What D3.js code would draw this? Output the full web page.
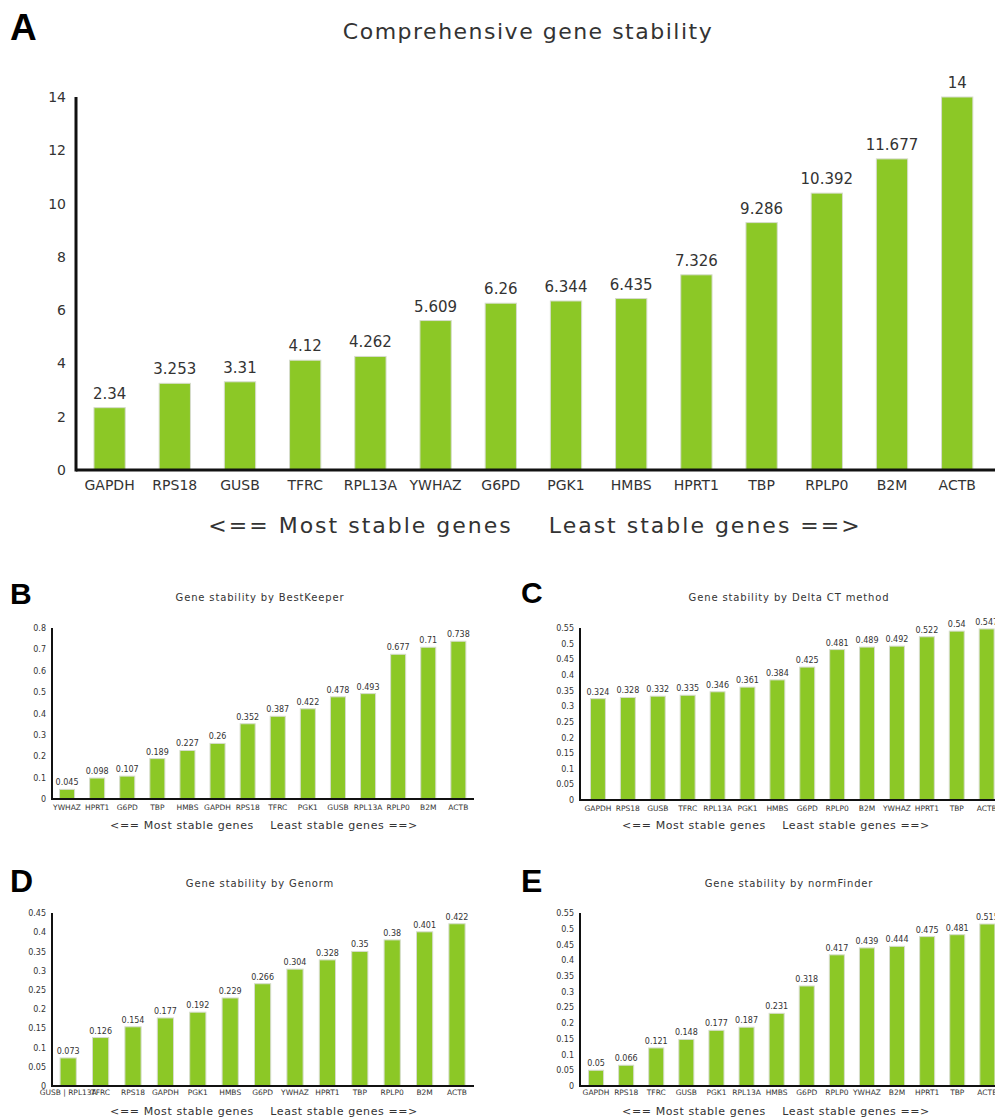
<!DOCTYPE html>
<html>
<head>
<meta charset="utf-8">
<script src="https://cdn.jsdelivr.net/npm/d3@7"></script>
<style>
  body { margin: 0; background: #fff; }
  svg { display: block; }
  text { font-family: "DejaVu Sans", sans-serif; fill: #333; }
  .panel-letter { font-family: "Liberation Sans", Arial, sans-serif; font-weight: bold; fill: #000; }
</style>
</head>
<body>
<svg width="995" height="1120"></svg>
<script>
// comprehensive ranking
const genesA = ['GAPDH', 'RPS18', 'GUSB', 'TFRC', 'RPL13A', 'YWHAZ', 'G6PD', 'PGK1', 'HMBS', 'HPRT1', 'TBP', 'RPLP0', 'B2M', 'ACTB'];
const valuesA = [2.34, 3.253, 3.31, 4.12, 4.262, 5.609, 6.26, 6.344, 6.435, 7.326, 9.286, 10.392, 11.677, 14];
const ticksA = [0, 2, 4, 6, 8, 10, 12, 14];

// BestKeeper
const genesB = ['YWHAZ', 'HPRT1', 'G6PD', 'TBP', 'HMBS', 'GAPDH', 'RPS18', 'TFRC', 'PGK1', 'GUSB', 'RPL13A', 'RPLP0', 'B2M', 'ACTB'];
const valuesB = [0.045, 0.098, 0.107, 0.189, 0.227, 0.26, 0.352, 0.387, 0.422, 0.478, 0.493, 0.677, 0.71, 0.738];
const ticksB = [0, 0.1, 0.2, 0.3, 0.4, 0.5, 0.6, 0.7, 0.8];

// Delta CT
const genesC = ['GAPDH', 'RPS18', 'GUSB', 'TFRC', 'RPL13A', 'PGK1', 'HMBS', 'G6PD', 'RPLP0', 'B2M', 'YWHAZ', 'HPRT1', 'TBP', 'ACTB'];
const valuesC = [0.324, 0.328, 0.332, 0.335, 0.346, 0.361, 0.384, 0.425, 0.481, 0.489, 0.492, 0.522, 0.54, 0.547];
const ticksC = [0, 0.05, 0.1, 0.15, 0.2, 0.25, 0.3, 0.35, 0.4, 0.45, 0.5, 0.55];

// Genorm
const genesD = ['GUSB | RPL13A', 'TFRC', 'RPS18', 'GAPDH', 'PGK1', 'HMBS', 'G6PD', 'YWHAZ', 'HPRT1', 'TBP', 'RPLP0', 'B2M', 'ACTB'];
const valuesD = [0.073, 0.126, 0.154, 0.177, 0.192, 0.229, 0.266, 0.304, 0.328, 0.35, 0.38, 0.401, 0.422];
const ticksD = [0, 0.05, 0.1, 0.15, 0.2, 0.25, 0.3, 0.35, 0.4, 0.45];

// normFinder
const genesE = ['GAPDH', 'RPS18', 'TFRC', 'GUSB', 'PGK1', 'RPL13A', 'HMBS', 'G6PD', 'RPLP0', 'YWHAZ', 'B2M', 'HPRT1', 'TBP', 'ACTB'];
const valuesE = [0.05, 0.066, 0.121, 0.148, 0.177, 0.187, 0.231, 0.318, 0.417, 0.439, 0.444, 0.475, 0.481, 0.515];
const ticksE = ticksC;

const caption = '<== Most stable genes\u00a0\u00a0\u00a0\u00a0Least stable genes ==>';
const barColor = '#8cc826';

const svg = d3.select('svg');

const drawPanel = p => {
  const data = p.genes.map((g, i) => ({gene: g, value: p.values[i]}));

  const xScale = d3.scaleBand()
    .domain(p.genes)
    .range([p.x0, p.x0 + p.step * p.genes.length])
    .paddingInner(p.pad)
    .paddingOuter(p.pad / 2);

  const yScale = d3.scaleLinear()
    .domain([0, d3.max(p.ticks)])
    .range([p.y0, p.y1]);

  const g = svg.append('g');

  g.append('text')
    .attr('class', 'panel-letter')
    .attr('x', p.letterX)
    .attr('y', p.letterY)
    .attr('font-size', p.letterSize)
    .text(p.letter);

  g.append('text')
    .attr('x', p.titleX)
    .attr('y', p.titleY)
    .attr('text-anchor', 'middle')
    .attr('font-size', p.titleSize)
    .attr('letter-spacing', p.titleSpacing)
    .attr('fill', '#222')
    .text(p.title);

  // bars
  g.selectAll('rect.bar').data(data)
    .enter().append('rect')
      .attr('class', 'bar')
      .attr('x', d => xScale(d.gene))
      .attr('y', d => yScale(d.value))
      .attr('width', xScale.bandwidth())
      .attr('height', d => p.y0 - yScale(d.value))
      .attr('fill', barColor)
      .attr('stroke', '#d6dccd')
      .attr('stroke-width', 1);

  g.selectAll('text.val').data(data)
    .enter().append('text')
      .attr('class', 'val')
      .attr('x', d => xScale(d.gene) + xScale.bandwidth() / 2)
      .attr('y', d => yScale(d.value) - p.valGap)
      .attr('text-anchor', 'middle')
      .attr('font-size', p.valSize)
      .text(d => d.value);

  // y axis
  const yAxis = d3.axisLeft(yScale)
    .tickValues(p.ticks)
    .tickSize(0)
    .tickPadding(p.tickPad)
    .tickFormat(d => d);
  const yAxisG = g.append('g')
    .attr('transform', `translate(${p.axisX}, 0)`)
    .call(yAxis);
  yAxisG.select('.domain').remove();
  yAxisG.selectAll('text')
    .attr('font-size', p.tickSize)
    .attr('font-family', '"DejaVu Sans", sans-serif')
    .attr('fill', '#444');

  // x axis
  const xAxis = d3.axisBottom(xScale).tickSize(0).tickPadding(p.xLabPad);
  const xAxisG = g.append('g')
    .attr('transform', `translate(0, ${p.y0})`)
    .call(xAxis);
  xAxisG.select('.domain').remove();
  xAxisG.selectAll('text')
    .attr('font-size', p.xLabSize)
    .attr('font-family', '"DejaVu Sans", sans-serif')
    .attr('fill', '#444');

  // axis lines
  g.append('line')
    .attr('x1', p.axisX).attr('x2', p.axisX)
    .attr('y1', p.y1).attr('y2', p.y0 + p.lineW / 2)
    .attr('stroke', '#111').attr('stroke-width', p.lineW);
  g.append('line')
    .attr('x1', p.axisX).attr('x2', p.axisEnd)
    .attr('y1', p.y0).attr('y2', p.y0)
    .attr('stroke', '#111').attr('stroke-width', p.lineW);

  g.append('text')
    .attr('x', p.capX)
    .attr('y', p.capY)
    .attr('text-anchor', 'middle')
    .attr('font-size', p.capSize)
    .attr('letter-spacing', p.capSpacing)
    .attr('fill', '#222')
    .text(caption);
};

drawPanel({
  letter: 'A', letterX: 10, letterY: 40, letterSize: 37,
  title: 'Comprehensive gene stability', titleX: 528, titleY: 39, titleSize: 22, titleSpacing: 1.5,
  genes: genesA, values: valuesA, ticks: ticksA,
  x0: 77, step: 65.2, pad: 0.52, y0: 470, y1: 97,
  axisX: 76, axisEnd: 995, lineW: 3,
  valGap: 9, valSize: 15, tickSize: 14, tickPad: 10,
  xLabPad: 10, xLabSize: 14,
  capX: 535, capY: 533, capSize: 22, capSpacing: 2
});

drawPanel({
  letter: 'B', letterX: 10, letterY: 604, letterSize: 30,
  title: 'Gene stability by BestKeeper', titleX: 260, titleY: 601, titleSize: 10, titleSpacing: 0.85,
  genes: genesB, values: valuesB, ticks: ticksB,
  x0: 52, step: 30.1, pad: 0.5, y0: 799, y1: 628,
  axisX: 52, axisEnd: 474, lineW: 2,
  valGap: 4, valSize: 8, tickSize: 8, tickPad: 6,
  xLabPad: 6, xLabSize: 7.5,
  capX: 264, capY: 829, capSize: 11, capSpacing: 0.6
});

drawPanel({
  letter: 'C', letterX: 521, letterY: 603, letterSize: 30,
  title: 'Gene stability by Delta CT method', titleX: 789, titleY: 601, titleSize: 10, titleSpacing: 0.85,
  genes: genesC, values: valuesC, ticks: ticksC,
  x0: 583, step: 29.9, pad: 0.5, y0: 800, y1: 628,
  axisX: 580, axisEnd: 995, lineW: 2,
  valGap: 4, valSize: 8, tickSize: 8, tickPad: 6,
  xLabPad: 6, xLabSize: 7.5,
  capX: 776, capY: 829, capSize: 11, capSpacing: 0.6
});

drawPanel({
  letter: 'D', letterX: 10, letterY: 892, letterSize: 32,
  title: 'Gene stability by Genorm', titleX: 260, titleY: 887, titleSize: 10, titleSpacing: 0.85,
  genes: genesD, values: valuesD, ticks: ticksD,
  x0: 52, step: 32.4, pad: 0.5, y0: 1086, y1: 913,
  axisX: 52, axisEnd: 474, lineW: 2,
  valGap: 4, valSize: 8, tickSize: 8, tickPad: 6,
  xLabPad: 4, xLabSize: 7.5,
  capX: 264, capY: 1115, capSize: 11, capSpacing: 0.6
});

drawPanel({
  letter: 'E', letterX: 521, letterY: 892, letterSize: 32,
  title: 'Gene stability by normFinder', titleX: 789, titleY: 887, titleSize: 10, titleSpacing: 0.85,
  genes: genesE, values: valuesE, ticks: ticksE,
  x0: 581, step: 30.1, pad: 0.5, y0: 1086, y1: 913,
  axisX: 580, axisEnd: 995, lineW: 2,
  valGap: 4, valSize: 8, tickSize: 8, tickPad: 6,
  xLabPad: 4, xLabSize: 7.5,
  capX: 776, capY: 1115, capSize: 11, capSpacing: 0.6
});
</script>
</body>
</html>
